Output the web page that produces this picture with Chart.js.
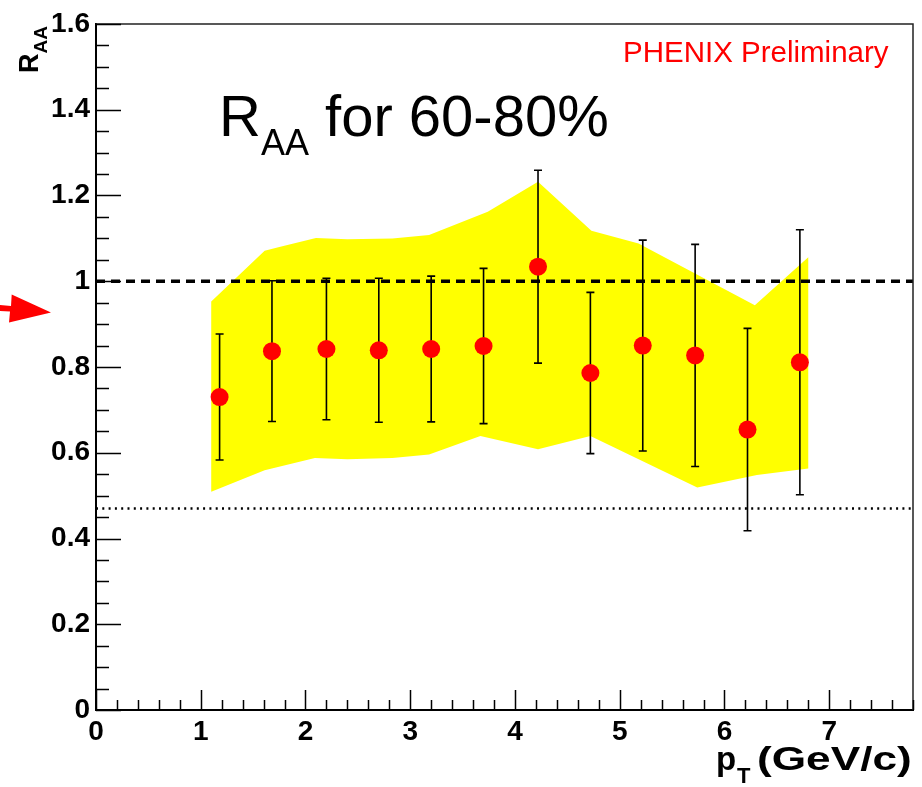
<!DOCTYPE html>
<html>
<head>
<meta charset="utf-8">
<script src="https://cdn.jsdelivr.net/npm/chart.js@4.4.1/dist/chart.umd.min.js"></script>
<style>
  html, body { margin: 0; padding: 0; background: #ffffff; }
  canvas { display: block; }
</style>
</head>
<body>
<canvas id="raa" width="922" height="787"></canvas>
<script>
// Measured nuclear modification factor, 60-80% centrality
const ptValues  = [1.18, 1.68, 2.20, 2.70, 3.20, 3.70, 4.22, 4.72, 5.22, 5.72, 6.22, 6.72];
const raaValues = [0.730, 0.837, 0.842, 0.839, 0.842, 0.849, 1.034, 0.786, 0.850, 0.827, 0.654, 0.811];
const raaErr    = [0.147, 0.164, 0.165, 0.168, 0.170, 0.181, 0.225, 0.188, 0.246, 0.259, 0.236, 0.309];

// Systematic uncertainty band (upper and lower edges)
const sysUpperX = [1.10, 1.61, 1.75, 2.10, 2.40, 2.83, 3.18, 3.74, 4.22, 4.73, 5.18, 6.29, 6.80];
const sysUpperY = [0.953, 1.071, 1.080, 1.101, 1.098, 1.100, 1.108, 1.162, 1.232, 1.118, 1.088, 0.944, 1.056];
const sysLowerX = [1.10, 1.61, 2.09, 2.40, 2.83, 3.18, 3.67, 4.22, 4.72, 5.74, 6.31, 6.80];
const sysLowerY = [0.509, 0.559, 0.588, 0.585, 0.588, 0.596, 0.639, 0.608, 0.639, 0.519, 0.548, 0.563];

// Reference levels
const unityLevel  = 1.0;
const dottedLevel = 0.47;
const arrowLevel  = 0.927;

// Axis ticks
const xMajorTicks = [0, 1, 2, 3, 4, 5, 6, 7];
const xTickLabels = ['0', '1', '2', '3', '4', '5', '6', '7'];
const yMajorTicks = [0, 0.2, 0.4, 0.6, 0.8, 1.0, 1.2, 1.4, 1.6];
const yTickLabels = ['0', '0.2', '0.4', '0.6', '0.8', '1', '1.2', '1.4', '1.6'];
const xRange = [0, 7.8];
const yRange = [0, 1.6];

const FONT = "'Liberation Sans', Arial, Helvetica, sans-serif";

// closed polygon: upper edge left->right, lower edge right->left
const bandPolygon = sysUpperX.map((x, i) => ({ x, y: sysUpperY[i] }))
  .concat(sysLowerX.map((x, i) => ({ x, y: sysLowerY[i] })).reverse());

const points = ptValues.map((x, i) => ({ x, y: raaValues[i] }));

const decorations = {
  id: 'decorations',
  afterDatasetDraw(chart, args) {
    if (args.index !== 0) return;
    // error bars drawn over the band, under the markers
    const { ctx, scales: { x, y } } = chart;
    ctx.save();
    ctx.strokeStyle = '#000';
    ctx.lineWidth = 1.6;
    ptValues.forEach((pt, i) => {
      const px = x.getPixelForValue(pt);
      const yTop = y.getPixelForValue(raaValues[i] + raaErr[i]);
      const yBot = y.getPixelForValue(raaValues[i] - raaErr[i]);
      ctx.beginPath();
      ctx.moveTo(px, yTop); ctx.lineTo(px, yBot);
      ctx.moveTo(px - 4, yTop); ctx.lineTo(px + 4, yTop);
      ctx.moveTo(px - 4, yBot); ctx.lineTo(px + 4, yBot);
      ctx.stroke();
    });
    ctx.restore();
  },
  afterDraw(chart) {
    const { ctx, chartArea: a, scales: { x, y } } = chart;
    ctx.save();

    // frame top and right
    ctx.strokeStyle = '#222';
    ctx.lineWidth = 1.5;
    ctx.beginPath();
    ctx.moveTo(a.left, a.top);
    ctx.lineTo(a.right, a.top);
    ctx.lineTo(a.right, a.bottom);
    ctx.stroke();

    // inward ticks
    ctx.strokeStyle = '#000';
    ctx.lineWidth = 1.5;
    ctx.beginPath();
    const yStep = 0.05;
    const nY = Math.round((yRange[1] - yRange[0]) / yStep);
    for (let i = 0; i <= nY; i++) {
      const py = Math.round(y.getPixelForValue(yRange[0] + i * yStep)) + 0.5;
      const len = (i % 4 === 0) ? 25 : 13;
      ctx.moveTo(a.left, py); ctx.lineTo(a.left + len, py);
    }
    const xStep = 0.2;
    const nX = Math.round((xRange[1] - xRange[0]) / xStep);
    for (let i = 0; i <= nX; i++) {
      const px = Math.round(x.getPixelForValue(xRange[0] + i * xStep)) + 0.5;
      const len = (i % 5 === 0) ? 20 : 10;
      ctx.moveTo(px, a.bottom); ctx.lineTo(px, a.bottom - len);
    }
    ctx.stroke();

    // headline
    ctx.fillStyle = '#000';
    ctx.textBaseline = 'alphabetic';
    ctx.textAlign = 'left';
    ctx.font = `58px ${FONT}`;
    ctx.fillText('R', 219, 136);
    let cx = 219 + ctx.measureText('R').width;
    ctx.font = `36px ${FONT}`;
    ctx.fillText('AA', cx, 155);
    cx += ctx.measureText('AA').width;
    ctx.font = `58px ${FONT}`;
    ctx.fillText(' for 60-80%', cx, 136);

    // preliminary tag
    ctx.fillStyle = '#ff0000';
    ctx.font = `29.5px ${FONT}`;
    ctx.fillText('PHENIX Preliminary', 623, 62);

    // x axis title
    ctx.fillStyle = '#000';
    ctx.font = `bold 33px ${FONT}`;
    ctx.fillText('p', 716, 770);
    ctx.font = `bold 22px ${FONT}`;
    ctx.fillText('T', 737, 783);
    ctx.save();
    ctx.translate(757, 770);
    ctx.scale(1.3, 1);
    ctx.font = `bold 34px ${FONT}`;
    ctx.fillText('(GeV/c)', 0, 0);
    ctx.restore();

    // y axis title, rotated
    ctx.save();
    ctx.translate(38, 73);
    ctx.rotate(-Math.PI / 2);
    ctx.font = `bold 27px ${FONT}`;
    ctx.fillText('R', 0, 0);
    const rw = ctx.measureText('R').width;
    ctx.font = `bold 19px ${FONT}`;
    ctx.fillText('AA', rw, 9);
    ctx.restore();

    // red arrow pointing at the axis
    const tipY = y.getPixelForValue(arrowLevel);
    ctx.fillStyle = '#ff0000';
    ctx.beginPath();
    ctx.moveTo(0, tipY - 7.5);
    ctx.lineTo(11, tipY - 6.5);
    ctx.lineTo(11.7, tipY - 18);
    ctx.lineTo(51, tipY);
    ctx.lineTo(9, tipY + 10);
    ctx.lineTo(10, tipY - 1);
    ctx.lineTo(0, tipY - 1.5);
    ctx.closePath();
    ctx.fill();

    ctx.restore();
  }
};

new Chart(document.getElementById('raa'), {
  type: 'line',
  data: {
    datasets: [
      {
        label: 'systematic',
        data: bandPolygon,
        order: 3,
        fill: 'shape',
        backgroundColor: '#ffff00',
        borderColor: 'rgba(0,0,0,0)',
        borderWidth: 0,
        pointRadius: 0,
        tension: 0
      },
      {
        label: 'unity',
        data: [{ x: xRange[0], y: unityLevel }, { x: xRange[1], y: unityLevel }],
        order: 2,
        borderColor: '#000',
        borderWidth: 3.5,
        borderDash: [9, 6],
        pointRadius: 0,
        fill: false
      },
      {
        label: 'reference',
        data: [{ x: xRange[0], y: dottedLevel }, { x: xRange[1], y: dottedLevel }],
        order: 2,
        borderColor: '#000',
        borderWidth: 2.5,
        borderDash: [2, 4.3],
        pointRadius: 0,
        fill: false
      },
      {
        label: 'RAA',
        data: points,
        order: 0,
        showLine: false,
        pointRadius: 9,
        pointStyle: 'circle',
        pointBackgroundColor: '#ff0000',
        pointBorderColor: '#ff0000',
        pointBorderWidth: 0
      }
    ]
  },
  options: {
    responsive: false,
    devicePixelRatio: 1,
    animation: false,
    events: [],
    layout: { padding: { left: 0, top: 24, right: 9, bottom: 0 } },
    plugins: {
      legend: { display: false },
      tooltip: { enabled: false },
      title: { display: false }
    },
    scales: {
      x: {
        type: 'linear',
        min: xRange[0],
        max: xRange[1],
        afterBuildTicks: s => { s.ticks = xMajorTicks.map(v => ({ value: v })); },
        afterFit: s => { s.height = 77; },
        ticks: {
          callback: (v, i) => xTickLabels[i],
          font: { family: FONT, weight: 'bold', size: 28 },
          color: '#000',
          padding: 5,
          maxRotation: 0,
          autoSkip: false
        },
        grid: { display: false, drawTicks: false },
        border: { display: true, color: '#000', width: 2 }
      },
      y: {
        type: 'linear',
        min: yRange[0],
        max: yRange[1],
        afterBuildTicks: s => { s.ticks = yMajorTicks.map(v => ({ value: v })); },
        afterFit: s => { s.width = 96; },
        ticks: {
          callback: (v, i) => yTickLabels[i],
          font: { family: FONT, weight: 'bold', size: 28 },
          color: '#000',
          padding: 6,
          autoSkip: false
        },
        grid: { display: false, drawTicks: false },
        border: { display: true, color: '#000', width: 2 }
      }
    }
  },
  plugins: [decorations]
});
</script>
</body>
</html>
